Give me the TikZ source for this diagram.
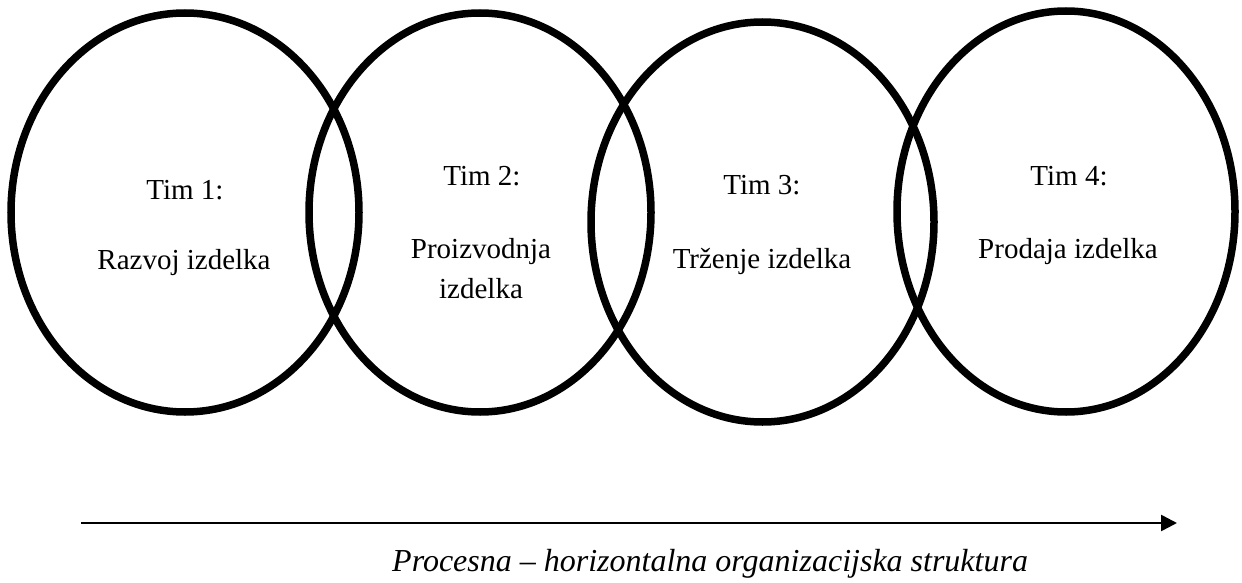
\documentclass[tikz,border=0pt]{standalone}
\usepackage{fontspec}
\setmainfont{Liberation Serif}
\usetikzlibrary{shapes.geometric,arrows.meta}
\tikzset{
  team/.style={ellipse, draw=black, line width=7.5pt, inner sep=0pt},
  lbl/.style={anchor=base, inner sep=0pt, font=\fontsize{29}{33}\selectfont},
  captxt/.style={anchor=base west, inner sep=0pt, font=\fontsize{32}{37}\selectfont\itshape},
  flow/.style={line width=2.5pt, -{Triangle[length=16pt,width=16pt]}}
}
\begin{document}
\begin{tikzpicture}[x=1pt,y=-1pt]
\useasboundingbox (0,0) rectangle (1242,583);
\node[team, minimum width=348pt, minimum height=399pt] (e1) at (185,212.5) {};
\node[team, minimum width=342pt, minimum height=399pt] (e2) at (480,212.5) {};
\node[team, minimum width=343pt, minimum height=400pt] (e3) at (762.5,222) {};
\node[team, minimum width=338pt, minimum height=401pt] (e4) at (1066,211.5) {};
\node[lbl] (t1) at (185,199) {Tim 1:};
\node[lbl] (r1) at (184,269) {Razvoj izdelka};
\node[lbl] (t2) at (482,185) {Tim 2:};
\node[lbl] (r2a) at (481,258) {Proizvodnja};
\node[lbl] (r2b) at (481,298) {izdelka};
\node[lbl] (t3) at (762,194) {Tim 3:};
\node[lbl] (r3) at (762,268) {Trženje izdelka};
\node[lbl] (t4) at (1069,185) {Tim 4:};
\node[lbl] (r4) at (1068,258) {Prodaja izdelka};
\coordinate (a0) at (81,523);
\coordinate (a1) at (1177,523);
\draw[flow] (a0) -- (a1);
\node[captxt] (c) at (392,571) {Procesna – horizontalna organizacijska struktura};
\end{tikzpicture}
\end{document}
